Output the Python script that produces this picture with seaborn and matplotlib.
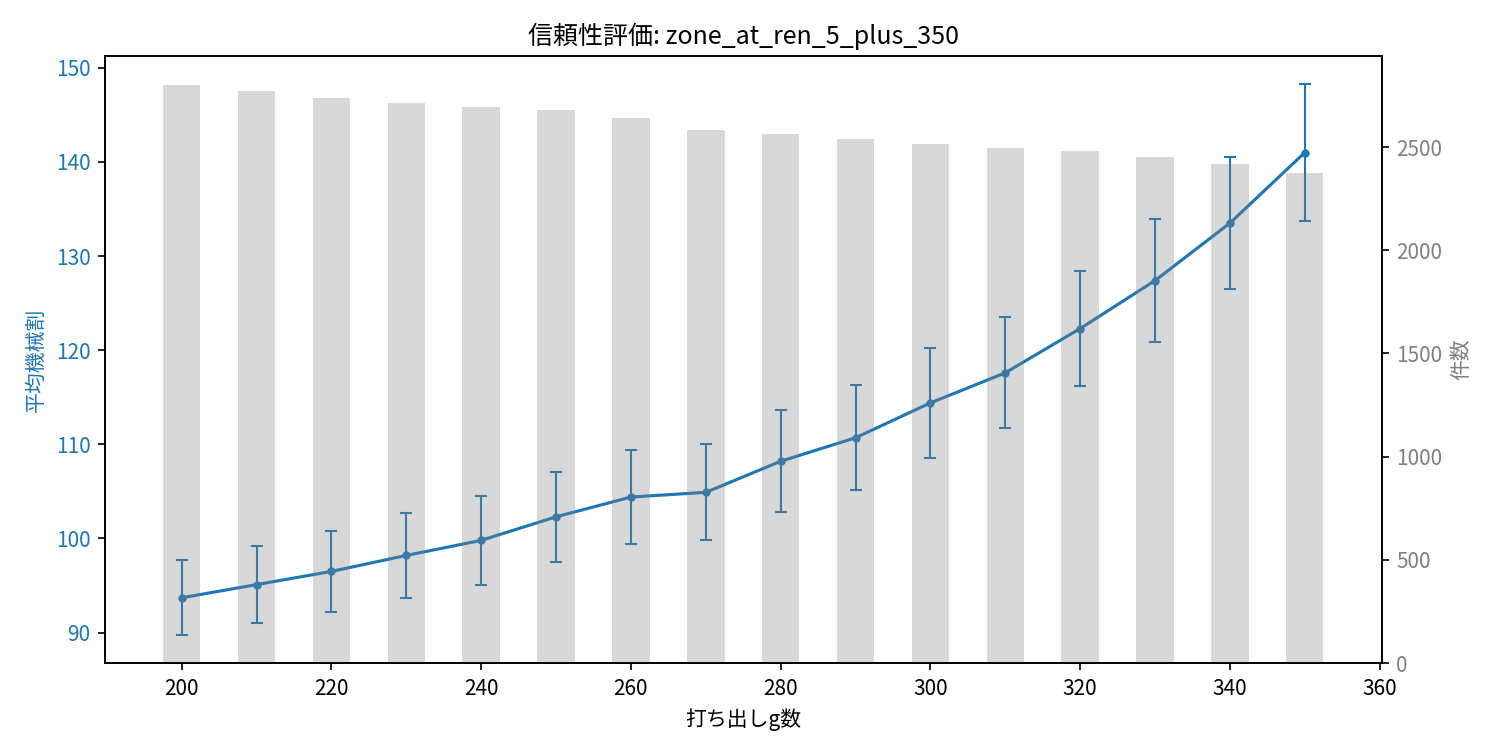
import matplotlib
matplotlib.use("Agg")
import matplotlib.pyplot as plt
import numpy as np
import pandas as pd
import seaborn as sns

plt.rcParams["font.family"] = ["Noto Sans CJK JP", "DejaVu Sans"]

start_g = [200, 210, 220, 230, 240, 250, 260, 270, 280, 290, 300, 310, 320, 330, 340, 350]
mean_rate = [93.7, 95.1, 96.5, 98.2, 99.8, 102.3, 104.4, 104.9, 108.2, 110.7,
             114.4, 117.6, 122.3, 127.4, 133.5, 141.0]
err_rate = [4.0, 4.1, 4.3, 4.5, 4.7, 4.8, 5.0, 5.1, 5.4, 5.6, 5.8, 5.9, 6.1, 6.5, 7.0, 7.3]
counts = [2800, 2771, 2737, 2713, 2694, 2679, 2640, 2582, 2563, 2539,
          2515, 2495, 2481, 2452, 2418, 2374]

df = pd.DataFrame({"start_g": start_g, "mean": mean_rate, "err": err_rate, "count": counts})

fig, ax = plt.subplots(figsize=(10, 5), dpi=150)
ax2 = ax.twinx()

ax.errorbar(df["start_g"], df["mean"], yerr=df["err"], fmt="-o", color="tab:blue",
            markersize=3, capsize=3, elinewidth=1, linewidth=1.5)
sns.barplot(data=df, x="start_g", y="count", ax=ax2, native_scale=True, width=0.5,
            color="gray", alpha=0.3, saturation=1)

ax.set_xlabel("打ち出しg数")
ax.set_ylabel("平均機械割", color="tab:blue")
ax.tick_params(axis="y", labelcolor="tab:blue")
ax2.set_ylabel("件数", color="gray")
ax2.tick_params(axis="y", labelcolor="gray")
ax2.set_xlabel("")
ax.set_title("信頼性評価: zone_at_ren_5_plus_350")

fig.subplots_adjust(left=0.07, right=0.921, top=0.925, bottom=0.116)
fig.savefig("out.png", dpi=150)
